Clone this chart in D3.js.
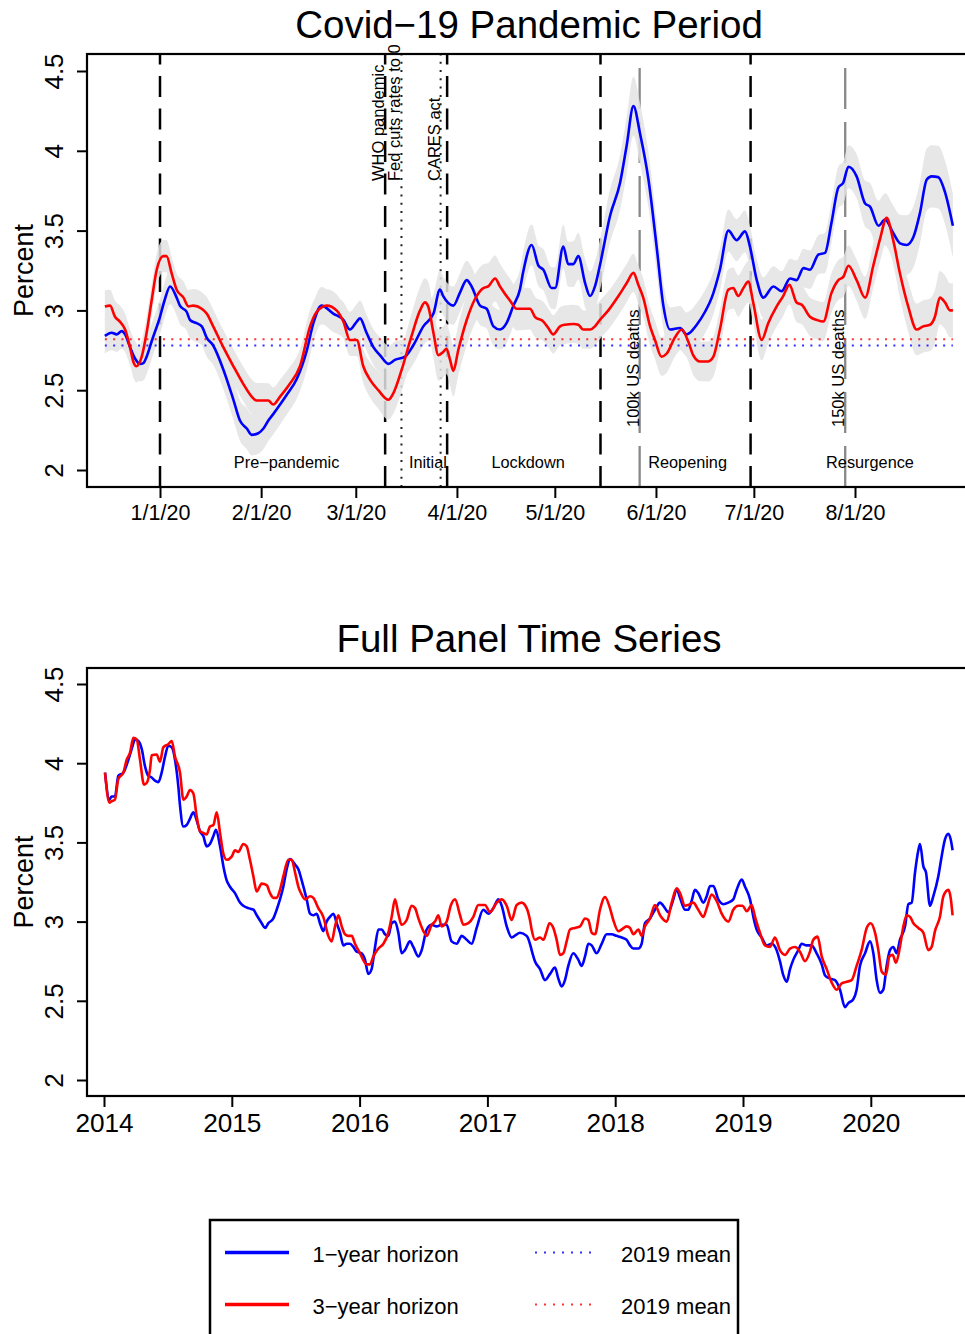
<!DOCTYPE html>
<html><head><meta charset="utf-8">
<script src="https://cdn.jsdelivr.net/npm/d3@7"></script>
<style>
html,body{margin:0;padding:0;background:#fff;}
svg{display:block;}
</style></head><body>
<svg id="chart" width="965" height="1334"></svg>
<script>
// ---------------- DATA ----------------
// Top panel: days since 2020-01-01
const topBlueDays = [-16.9,-14.8,-13.3,-11.7,-10.7,-9.2,-7.7,-6.1,-5.1,-4.1,-2.5,0,1.5,3.1,5.1,6.1,8.2,9.2,11.2,12.8,14.3,16.3,19.4,22.5,24.5,26.6,28.1,30.1,31.7,33.2,34.7,36.8,38.8,41.9,45.0,47.0,49.5,53.1,56.2,58.2,60.3,61.3,63.3,65.4,67.4,70.0,72.0,75.1,77.6,80.7,83.8,85.8,86.8,89.9,91.9,94.0,95.5,98.1,100.1,102.2,104.2,106.2,108.3,110.3,111.3,113.9,116.0,117.5,120.0,121.1,123.6,125.1,126.7,128.2,130.3,131.8,133.3,134.8,137.9,141.0,143.0,145.1,147.1,149.7,152.2,154.3,156.3,159.4,161.4,162.4,164.5,167.0,169.1,171.6,174.2,176.7,179.3,180.8,182.9,184.9,188.0,190.5,193.1,195.1,197.2,199.2,201.8,203.8,205.8,207.9,209.4,211.0,213.5,216.1,217.6,220.2,222.2,224.7,226.8,228.8,230.9,232.9,235.0,236.5,238.5,240.6,243.0];
const topBlueVals = [2.84,2.86,2.85,2.87,2.85,2.77,2.70,2.665,2.67,2.71,2.81,2.96,3.07,3.15,3.08,3.03,2.99,2.94,2.92,2.90,2.83,2.78,2.63,2.44,2.31,2.26,2.22,2.23,2.26,2.31,2.35,2.41,2.47,2.57,2.75,2.92,3.03,2.98,2.94,2.88,2.93,2.95,2.86,2.77,2.72,2.665,2.69,2.71,2.78,2.90,2.98,3.13,3.09,3.03,3.11,3.19,3.15,3.03,3.01,2.90,2.88,2.92,3.03,3.13,3.24,3.41,3.28,3.255,3.14,3.14,3.40,3.29,3.29,3.34,3.17,3.09,3.15,3.28,3.59,3.80,4.03,4.28,4.11,3.82,3.40,3.025,2.88,2.89,2.85,2.86,2.91,2.99,3.08,3.255,3.50,3.44,3.495,3.40,3.19,3.08,3.15,3.12,3.20,3.19,3.265,3.255,3.35,3.36,3.55,3.77,3.80,3.90,3.84,3.67,3.65,3.53,3.57,3.485,3.42,3.41,3.46,3.61,3.82,3.84,3.835,3.74,3.53];
const topRedDays = [-16.9,-15.3,-13.8,-12.3,-10.7,-9.2,-8.2,-7.2,-5.6,-4.1,-2.5,-1.0,1.0,2.0,3.6,5.1,7.2,8.7,10.2,12.8,14.3,16.3,19.4,22.5,25.5,28.1,29.6,33.2,34.7,36.8,39.8,42.9,46.0,48.0,51.1,54.1,56.2,58.2,60.3,62.3,64.4,66.9,70.0,71.5,74.1,77.1,79.7,81.2,82.2,83.8,85.3,86.8,87.8,88.9,89.9,91.4,94.0,96.5,99.1,100.6,102.7,104.2,107.3,109.3,113.4,114.9,117.5,119.0,120.5,122.6,124.1,126.7,128.2,129.7,131.8,133.3,134.8,137.4,140.5,143.0,145.1,146.6,148.1,150.2,151.7,153.7,155.3,157.8,159.9,161.9,163.4,165.5,168.0,169.6,171.6,174.2,175.7,177.2,178.8,180.3,181.8,184.4,186.4,189.0,191.0,192.9,195.1,196.7,199.2,201.3,203.3,205.8,207.9,209.4,211.0,213.5,216.1,218.6,220.7,222.7,224.7,226.8,229.3,231.9,233.9,236.0,237.5,239.0,240.6,242.1,243.0];
const topRedVals = [3.025,3.03,2.96,2.93,2.88,2.77,2.68,2.65,2.71,2.86,3.07,3.255,3.34,3.34,3.23,3.13,3.08,3.025,3.03,3.01,2.98,2.90,2.77,2.65,2.54,2.46,2.435,2.435,2.41,2.46,2.54,2.65,2.90,2.99,3.03,3.00,2.93,2.815,2.815,2.65,2.565,2.50,2.44,2.48,2.63,2.84,3.00,3.05,3.025,2.86,2.72,2.74,2.76,2.69,2.62,2.75,2.94,3.07,3.14,3.15,3.20,3.15,3.06,3.01,3.01,2.96,2.93,2.89,2.85,2.90,2.91,2.915,2.91,2.88,2.88,2.90,2.94,3.00,3.09,3.17,3.235,3.16,3.08,2.90,2.815,2.71,2.73,2.83,2.88,2.805,2.72,2.68,2.68,2.71,2.88,3.13,3.14,3.09,3.14,3.18,3.05,2.815,2.92,3.025,3.09,3.16,3.05,3.035,2.96,2.94,2.93,3.11,3.19,3.21,3.28,3.19,3.08,3.28,3.45,3.58,3.44,3.23,3.025,2.88,2.90,2.91,2.96,3.08,3.05,3.00,3.00];
// confidence band half-widths (knots, days since 2020-01-01)
const bandKnotDays = [-17,0,30,60,85,92,120,140,147,155,180,200,215,230,243];
const blueBandHalf = [0.11,0.11,0.13,0.11,0.12,0.12,0.13,0.17,0.19,0.14,0.13,0.12,0.14,0.19,0.20];
const redBandHalf  = [0.10,0.10,0.11,0.10,0.16,0.16,0.12,0.12,0.12,0.12,0.13,0.12,0.13,0.16,0.17];
const mean2019 = {blue: 2.78, red: 2.82};
const topTickDays = [0,31,60,91,121,152,182,213];
const topTickLabels = ["1/1/20","2/1/20","3/1/20","4/1/20","5/1/20","6/1/20","7/1/20","8/1/20"];
const periodBoundaryDays = [0,69,88,135,181];
const periodNames = ["Pre\u2212pandemic","Initial","Lockdown","Reopening","Resurgence"];
const periodLabelDays = [38.8,82.1,112.8,161.7,217.6];
const dottedEventDays = [74,86];
const dottedEventNames = ["Fed cuts rates to 0","CARES act"];
const dashedEventDays = [69];
const dashedEventNames = ["WHO pandemic"];
const deathEventDays = [147,210];
const deathEventNames = ["100k US deaths","150k US deaths"];
const yTicks = [2,2.5,3,3.5,4,4.5];
const yTickLabels = ["2","2.5","3","3.5","4","4.5"];

// Bottom panel: decimal years
const fullBlueYears = [2014.008,2014.042,2014.060,2014.086,2014.112,2014.151,2014.190,2014.217,2014.243,2014.269,2014.295,2014.321,2014.347,2014.373,2014.399,2014.425,2014.451,2014.477,2014.503,2014.530,2014.556,2014.582,2014.595,2014.621,2014.647,2014.673,2014.699,2014.725,2014.751,2014.777,2014.803,2014.829,2014.856,2014.876,2014.908,2014.934,2014.960,2014.986,2015.025,2015.064,2015.090,2015.129,2015.169,2015.195,2015.234,2015.260,2015.286,2015.325,2015.351,2015.377,2015.403,2015.429,2015.455,2015.495,2015.521,2015.547,2015.586,2015.612,2015.638,2015.664,2015.690,2015.716,2015.742,2015.768,2015.795,2015.821,2015.847,2015.873,2015.899,2015.925,2015.951,2015.977,2016.016,2016.042,2016.068,2016.094,2016.121,2016.147,2016.173,2016.199,2016.225,2016.251,2016.277,2016.303,2016.329,2016.355,2016.394,2016.420,2016.460,2016.486,2016.525,2016.564,2016.603,2016.642,2016.681,2016.720,2016.760,2016.799,2016.838,2016.877,2016.916,2016.968,2017.007,2017.046,2017.086,2017.112,2017.151,2017.190,2017.255,2017.307,2017.333,2017.346,2017.372,2017.412,2017.451,2017.490,2017.529,2017.555,2017.581,2017.607,2017.633,2017.672,2017.711,2017.738,2017.764,2017.790,2017.816,2017.855,2017.894,2017.933,2017.972,2018.011,2018.051,2018.090,2018.116,2018.142,2018.181,2018.207,2018.233,2018.272,2018.311,2018.351,2018.377,2018.416,2018.455,2018.481,2018.507,2018.546,2018.572,2018.598,2018.624,2018.650,2018.690,2018.716,2018.742,2018.768,2018.807,2018.846,2018.885,2018.924,2018.950,2018.990,2019.016,2019.055,2019.081,2019.107,2019.146,2019.185,2019.224,2019.263,2019.289,2019.316,2019.342,2019.368,2019.394,2019.433,2019.459,2019.498,2019.537,2019.576,2019.616,2019.642,2019.681,2019.720,2019.759,2019.798,2019.824,2019.863,2019.889,2019.915,2019.955,2019.994,2020.020,2020.046,2020.072,2020.098,2020.124,2020.150,2020.176,2020.202,2020.228,2020.268,2020.294,2020.320,2020.346,2020.372,2020.385,2020.411,2020.432,2020.463,2020.489,2020.528,2020.554,2020.581,2020.607,2020.625,2020.640];
const fullBlueVals = [3.94,3.77,3.79,3.79,3.92,3.94,4.02,4.09,4.15,4.14,4.09,3.98,3.92,3.91,3.89,3.88,3.94,4.04,4.11,4.10,4.02,3.85,3.73,3.60,3.61,3.65,3.69,3.64,3.57,3.54,3.475,3.49,3.54,3.58,3.475,3.35,3.26,3.22,3.18,3.12,3.10,3.085,3.075,3.04,2.99,2.96,2.99,3.02,3.075,3.14,3.22,3.33,3.395,3.36,3.33,3.26,3.14,3.05,3.04,3.05,2.99,2.94,3.00,3.03,3.05,2.99,2.93,2.85,2.86,2.86,2.84,2.81,2.80,2.76,2.67,2.70,2.84,2.95,2.95,2.92,2.91,2.99,3.00,2.93,2.80,2.82,2.875,2.84,2.78,2.82,2.95,2.98,2.97,2.98,2.98,2.875,2.86,2.91,2.885,2.86,2.96,3.075,3.05,3.085,3.14,3.10,2.97,2.90,2.93,2.91,2.86,2.82,2.75,2.70,2.63,2.67,2.71,2.64,2.59,2.63,2.72,2.80,2.76,2.72,2.78,2.86,2.85,2.80,2.86,2.92,2.92,2.91,2.90,2.885,2.85,2.83,2.83,2.86,2.99,3.02,3.075,3.12,3.10,3.06,3.14,3.205,3.15,3.075,3.075,3.13,3.20,3.18,3.12,3.16,3.225,3.225,3.14,3.11,3.12,3.14,3.20,3.265,3.22,3.14,3.03,2.95,2.90,2.85,2.86,2.82,2.75,2.66,2.62,2.70,2.76,2.82,2.86,2.85,2.85,2.80,2.73,2.66,2.64,2.63,2.57,2.46,2.485,2.51,2.57,2.72,2.80,2.875,2.80,2.63,2.55,2.57,2.72,2.82,2.84,2.80,2.885,2.97,3.11,3.12,3.31,3.45,3.49,3.35,3.31,3.10,3.16,3.285,3.41,3.52,3.555,3.52,3.45];
const fullRedYears = [2014.008,2014.042,2014.060,2014.086,2014.112,2014.151,2014.177,2014.203,2014.230,2014.256,2014.282,2014.313,2014.334,2014.360,2014.373,2014.412,2014.438,2014.464,2014.503,2014.530,2014.556,2014.595,2014.621,2014.647,2014.673,2014.699,2014.725,2014.751,2014.777,2014.803,2014.829,2014.856,2014.882,2014.908,2014.934,2014.960,2014.999,2015.025,2015.051,2015.090,2015.116,2015.142,2015.169,2015.195,2015.234,2015.273,2015.299,2015.325,2015.351,2015.377,2015.403,2015.442,2015.469,2015.495,2015.521,2015.547,2015.573,2015.612,2015.638,2015.677,2015.716,2015.755,2015.781,2015.808,2015.834,2015.860,2015.886,2015.912,2015.938,2015.964,2016.003,2016.055,2016.081,2016.108,2016.147,2016.186,2016.225,2016.251,2016.277,2016.303,2016.329,2016.368,2016.407,2016.434,2016.460,2016.499,2016.525,2016.564,2016.590,2016.616,2016.642,2016.681,2016.713,2016.747,2016.786,2016.812,2016.851,2016.890,2016.929,2016.981,2017.020,2017.073,2017.112,2017.151,2017.190,2017.229,2017.268,2017.307,2017.333,2017.346,2017.372,2017.412,2017.438,2017.464,2017.485,2017.516,2017.542,2017.568,2017.594,2017.620,2017.646,2017.685,2017.725,2017.764,2017.790,2017.816,2017.842,2017.881,2017.920,2017.959,2017.985,2018.024,2018.051,2018.090,2018.116,2018.142,2018.181,2018.207,2018.233,2018.272,2018.311,2018.351,2018.403,2018.442,2018.481,2018.507,2018.546,2018.572,2018.611,2018.650,2018.690,2018.716,2018.755,2018.794,2018.833,2018.885,2018.924,2018.963,2018.997,2019.029,2019.068,2019.094,2019.133,2019.172,2019.211,2019.250,2019.289,2019.329,2019.368,2019.407,2019.446,2019.485,2019.524,2019.550,2019.584,2019.616,2019.655,2019.694,2019.733,2019.772,2019.811,2019.850,2019.889,2019.928,2019.968,2019.999,2020.033,2020.059,2020.085,2020.119,2020.145,2020.171,2020.197,2020.228,2020.255,2020.281,2020.307,2020.333,2020.372,2020.411,2020.450,2020.476,2020.502,2020.541,2020.568,2020.607,2020.625,2020.640];
const fullRedVals = [3.94,3.75,3.76,3.77,3.90,3.94,4.02,4.065,4.16,4.15,4.02,3.865,3.875,3.96,4.05,4.055,4.01,4.10,4.12,4.14,4.04,3.94,3.77,3.79,3.83,3.81,3.665,3.57,3.56,3.55,3.60,3.61,3.69,3.56,3.43,3.39,3.41,3.45,3.44,3.49,3.475,3.39,3.285,3.19,3.24,3.23,3.18,3.15,3.15,3.20,3.285,3.39,3.39,3.31,3.22,3.17,3.14,3.16,3.15,3.085,3.03,2.91,2.875,2.97,3.04,2.97,2.92,2.91,2.91,2.86,2.80,2.73,2.73,2.78,2.83,2.86,2.93,3.03,3.14,3.05,2.98,3.01,3.10,3.085,3.02,2.94,2.91,2.98,3.00,3.04,2.97,3.00,3.10,3.14,3.04,2.98,2.99,3.03,3.105,3.105,3.06,3.12,3.14,3.10,3.01,3.105,3.12,3.085,3.01,2.95,2.885,2.90,2.885,2.94,2.99,2.96,2.885,2.79,2.80,2.875,2.95,2.96,2.97,3.02,3.01,2.93,2.92,3.075,3.155,3.085,3.01,2.94,2.95,2.97,2.96,2.92,2.95,2.91,2.97,3.02,3.105,3.04,3.00,3.12,3.21,3.18,3.10,3.105,3.12,3.075,3.03,3.085,3.17,3.13,3.05,3.00,3.075,3.10,3.10,3.065,3.105,3.03,2.93,2.85,2.84,2.90,2.82,2.79,2.83,2.84,2.81,2.75,2.81,2.885,2.905,2.78,2.70,2.615,2.57,2.61,2.62,2.63,2.72,2.82,2.96,2.99,2.93,2.82,2.685,2.665,2.78,2.79,2.74,2.84,2.97,3.04,3.03,2.99,2.96,2.93,2.82,2.84,2.94,3.03,3.16,3.20,3.15,3.04];
const fullTickYears = [2014,2015,2016,2017,2018,2019,2020];
const fullTickLabels = ["2014","2015","2016","2017","2018","2019","2020"];

const legendLabels = ["1\u2212year horizon","3\u2212year horizon"];
const legendMeanLabels = ["2019 mean","2019 mean"];
const titles = ["Covid\u221219 Pandemic Period","Full Panel Time Series"];

// ---------------- DRAWING ----------------
const FONT = '"Liberation Sans", Arial, Helvetica, sans-serif';
const BLUE = "#0000ff", RED = "#ff0000";
const svg = d3.select("#chart").attr("font-family", FONT);

const boxL = 87, boxR = 971;

function drawFrame(top, bottom, x, y, tickVals, tickLabels, xLabelSize, xLabelBase, title, titleBase) {
  // y axis
  const ya = svg.append("g").attr("transform", `translate(${boxL},0)`)
    .call(d3.axisLeft(y).tickValues(yTicks).tickSize(10).tickFormat((d,i)=>yTickLabels[i]));
  ya.select(".domain").remove();
  ya.selectAll(".tick line").attr("stroke","#000").attr("stroke-width",2);
  ya.selectAll(".tick text").attr("x",0).attr("y",0).attr("dy",null)
    .attr("text-anchor","middle").attr("transform","translate(-24,0) rotate(-90)")
    .attr("font-size",26).attr("font-family",FONT).attr("fill","#000");
  // x axis
  const xa = svg.append("g").attr("transform", `translate(0,${bottom})`)
    .call(d3.axisBottom(x).tickValues(tickVals).tickSize(11).tickFormat((d,i)=>tickLabels[i]));
  xa.select(".domain").remove();
  xa.selectAll(".tick line").attr("stroke","#000").attr("stroke-width",2);
  xa.selectAll(".tick text").attr("y", xLabelBase - bottom).attr("dy",null)
    .attr("font-size",xLabelSize).attr("font-family",FONT).attr("fill","#000");
  // box
  svg.append("rect").attr("x",boxL).attr("y",top).attr("width",boxR-boxL).attr("height",bottom-top)
    .attr("fill","none").attr("stroke","#000").attr("stroke-width",2.2);
  // y label
  svg.append("text").attr("transform",`translate(33,${(top+bottom)/2}) rotate(-90)`)
    .attr("text-anchor","middle").attr("font-size",27).text("Percent");
  // title
  svg.append("text").attr("x",(boxL+boxR)/2).attr("y",titleBase).attr("text-anchor","middle")
    .attr("font-size",38.5).text(title);
}

// ===== Top panel =====
const tTop = 54, tBot = 487;
const xTop = d3.scaleLinear().domain([0,213]).range([160,855]);
const yTop = d3.scaleLinear().domain([2,4.5]).range([470,71]);
svg.append("clipPath").attr("id","clipTop").append("rect")
  .attr("x",boxL).attr("y",tTop).attr("width",boxR-boxL).attr("height",tBot-tTop);
const gTop = svg.append("g").attr("clip-path","url(#clipTop)");

// vertical event lines (drawn from bottom upward)
periodBoundaryDays.forEach(d => {
  gTop.append("line").attr("x1",xTop(d)).attr("x2",xTop(d)).attr("y1",tBot).attr("y2",tTop)
    .attr("stroke","#000").attr("stroke-width",2.5).attr("stroke-dasharray","21,11.5");
});
dottedEventDays.forEach(d => {
  gTop.append("line").attr("x1",xTop(d)).attr("x2",xTop(d)).attr("y1",tBot).attr("y2",tTop)
    .attr("stroke","#222").attr("stroke-width",2).attr("stroke-dasharray","2,6.3");
});
deathEventDays.forEach(d => {
  gTop.append("line").attr("x1",xTop(d)).attr("x2",xTop(d)).attr("y1",tBot).attr("y2",tTop)
    .attr("stroke","#888").attr("stroke-width",2.3).attr("stroke-dasharray","41,13");
});

// confidence bands
const blueHalf = d3.scaleLinear().domain(bandKnotDays).range(blueBandHalf);
const redHalf = d3.scaleLinear().domain(bandKnotDays).range(redBandHalf);
const topBlue = topBlueDays.map((d,i)=>({d, v: topBlueVals[i]}));
const topRed = topRedDays.map((d,i)=>({d, v: topRedVals[i]}));
const bandG = gTop.append("g").attr("opacity",0.85);
const areaFor = (hs) => d3.area().curve(d3.curveMonotoneX)
  .x(p=>xTop(p.d)).y0(p=>yTop(p.v - hs(p.d))).y1(p=>yTop(p.v + hs(p.d)));
bandG.append("path").datum(topBlue).attr("d", areaFor(blueHalf)).attr("fill","#e3e3e3");
bandG.append("path").datum(topRed).attr("d", areaFor(redHalf)).attr("fill","#e3e3e3");

// 2019 means
const dStart = d3.min(topBlueDays), dEnd = d3.max(topBlueDays);
[["blue",BLUE],["red",RED]].forEach(([k,c]) => {
  gTop.append("line").attr("x1",xTop(dStart)).attr("x2",xTop(dEnd))
    .attr("y1",yTop(mean2019[k])).attr("y2",yTop(mean2019[k]))
    .attr("stroke",c).attr("stroke-width",2).attr("stroke-dasharray","2,6.3").attr("opacity",0.8);
});

// series
const lineTop = d3.line().curve(d3.curveMonotoneX).x(p=>xTop(p.d)).y(p=>yTop(p.v));
gTop.append("path").datum(topBlue).attr("d",lineTop).attr("fill","none").attr("stroke",BLUE).attr("stroke-width",2.6);
gTop.append("path").datum(topRed).attr("d",lineTop).attr("fill","none").attr("stroke",RED).attr("stroke-width",2.6);

// rotated event labels
function rotLabel(d, startY, txt) {
  svg.append("text").attr("transform",`translate(${xTop(d)-1},${startY}) rotate(-90)`)
    .attr("font-size",16.5).attr("fill","#000").text(txt);
}
dashedEventDays.forEach((d,i)=>rotLabel(d,181,dashedEventNames[i]));
dottedEventDays.forEach((d,i)=>rotLabel(d,181,dottedEventNames[i]));
deathEventDays.forEach((d,i)=>rotLabel(d,427,deathEventNames[i]));

// period labels
periodLabelDays.forEach((d,i)=>{
  svg.append("text").attr("x",xTop(d)).attr("y",468).attr("text-anchor","middle")
    .attr("font-size",16.3).text(periodNames[i]);
});

drawFrame(tTop, tBot, xTop, yTop, topTickDays, topTickLabels, 21.5, 520, titles[0], 37.5);

// ===== Bottom panel =====
const bTop = 668, bBot = 1096;
const xFull = d3.scaleLinear().domain([2014,2020]).range([104,870.8]);
const yFull = d3.scaleLinear().domain([2,4.5]).range([1080,684]);
const gFull = svg.append("g");
const fullBlue = fullBlueYears.map((t,i)=>({t, v: fullBlueVals[i]}));
const fullRed = fullRedYears.map((t,i)=>({t, v: fullRedVals[i]}));
const lineFull = d3.line().curve(d3.curveMonotoneX).x(p=>xFull(p.t)).y(p=>yFull(p.v));
gFull.append("path").datum(fullBlue).attr("d",lineFull).attr("fill","none").attr("stroke",BLUE).attr("stroke-width",2.6);
gFull.append("path").datum(fullRed).attr("d",lineFull).attr("fill","none").attr("stroke",RED).attr("stroke-width",2.6);

drawFrame(bTop, bBot, xFull, yFull, fullTickYears, fullTickLabels, 26.2, 1132, titles[1], 651.5);

// ===== Legend =====
const lg = svg.append("g");
lg.append("rect").attr("x",210).attr("y",1220).attr("width",528).attr("height",200)
  .attr("fill","none").attr("stroke","#000").attr("stroke-width",2.5);
const rowsY = [1252.5, 1304.5];
const cols = [BLUE, RED];
rowsY.forEach((ry,i)=>{
  lg.append("line").attr("x1",225).attr("x2",289).attr("y1",ry).attr("y2",ry)
    .attr("stroke",cols[i]).attr("stroke-width",3.5);
  lg.append("text").attr("x",312.5).attr("y",ry+9).attr("font-size",22).text(legendLabels[i]);
  lg.append("line").attr("x1",535).attr("x2",598).attr("y1",ry).attr("y2",ry)
    .attr("stroke",cols[i]).attr("stroke-width",2).attr("stroke-dasharray","2,7").attr("opacity",0.8);
  lg.append("text").attr("x",621).attr("y",ry+9).attr("font-size",22).text(legendMeanLabels[i]);
});
</script>
</body></html>
